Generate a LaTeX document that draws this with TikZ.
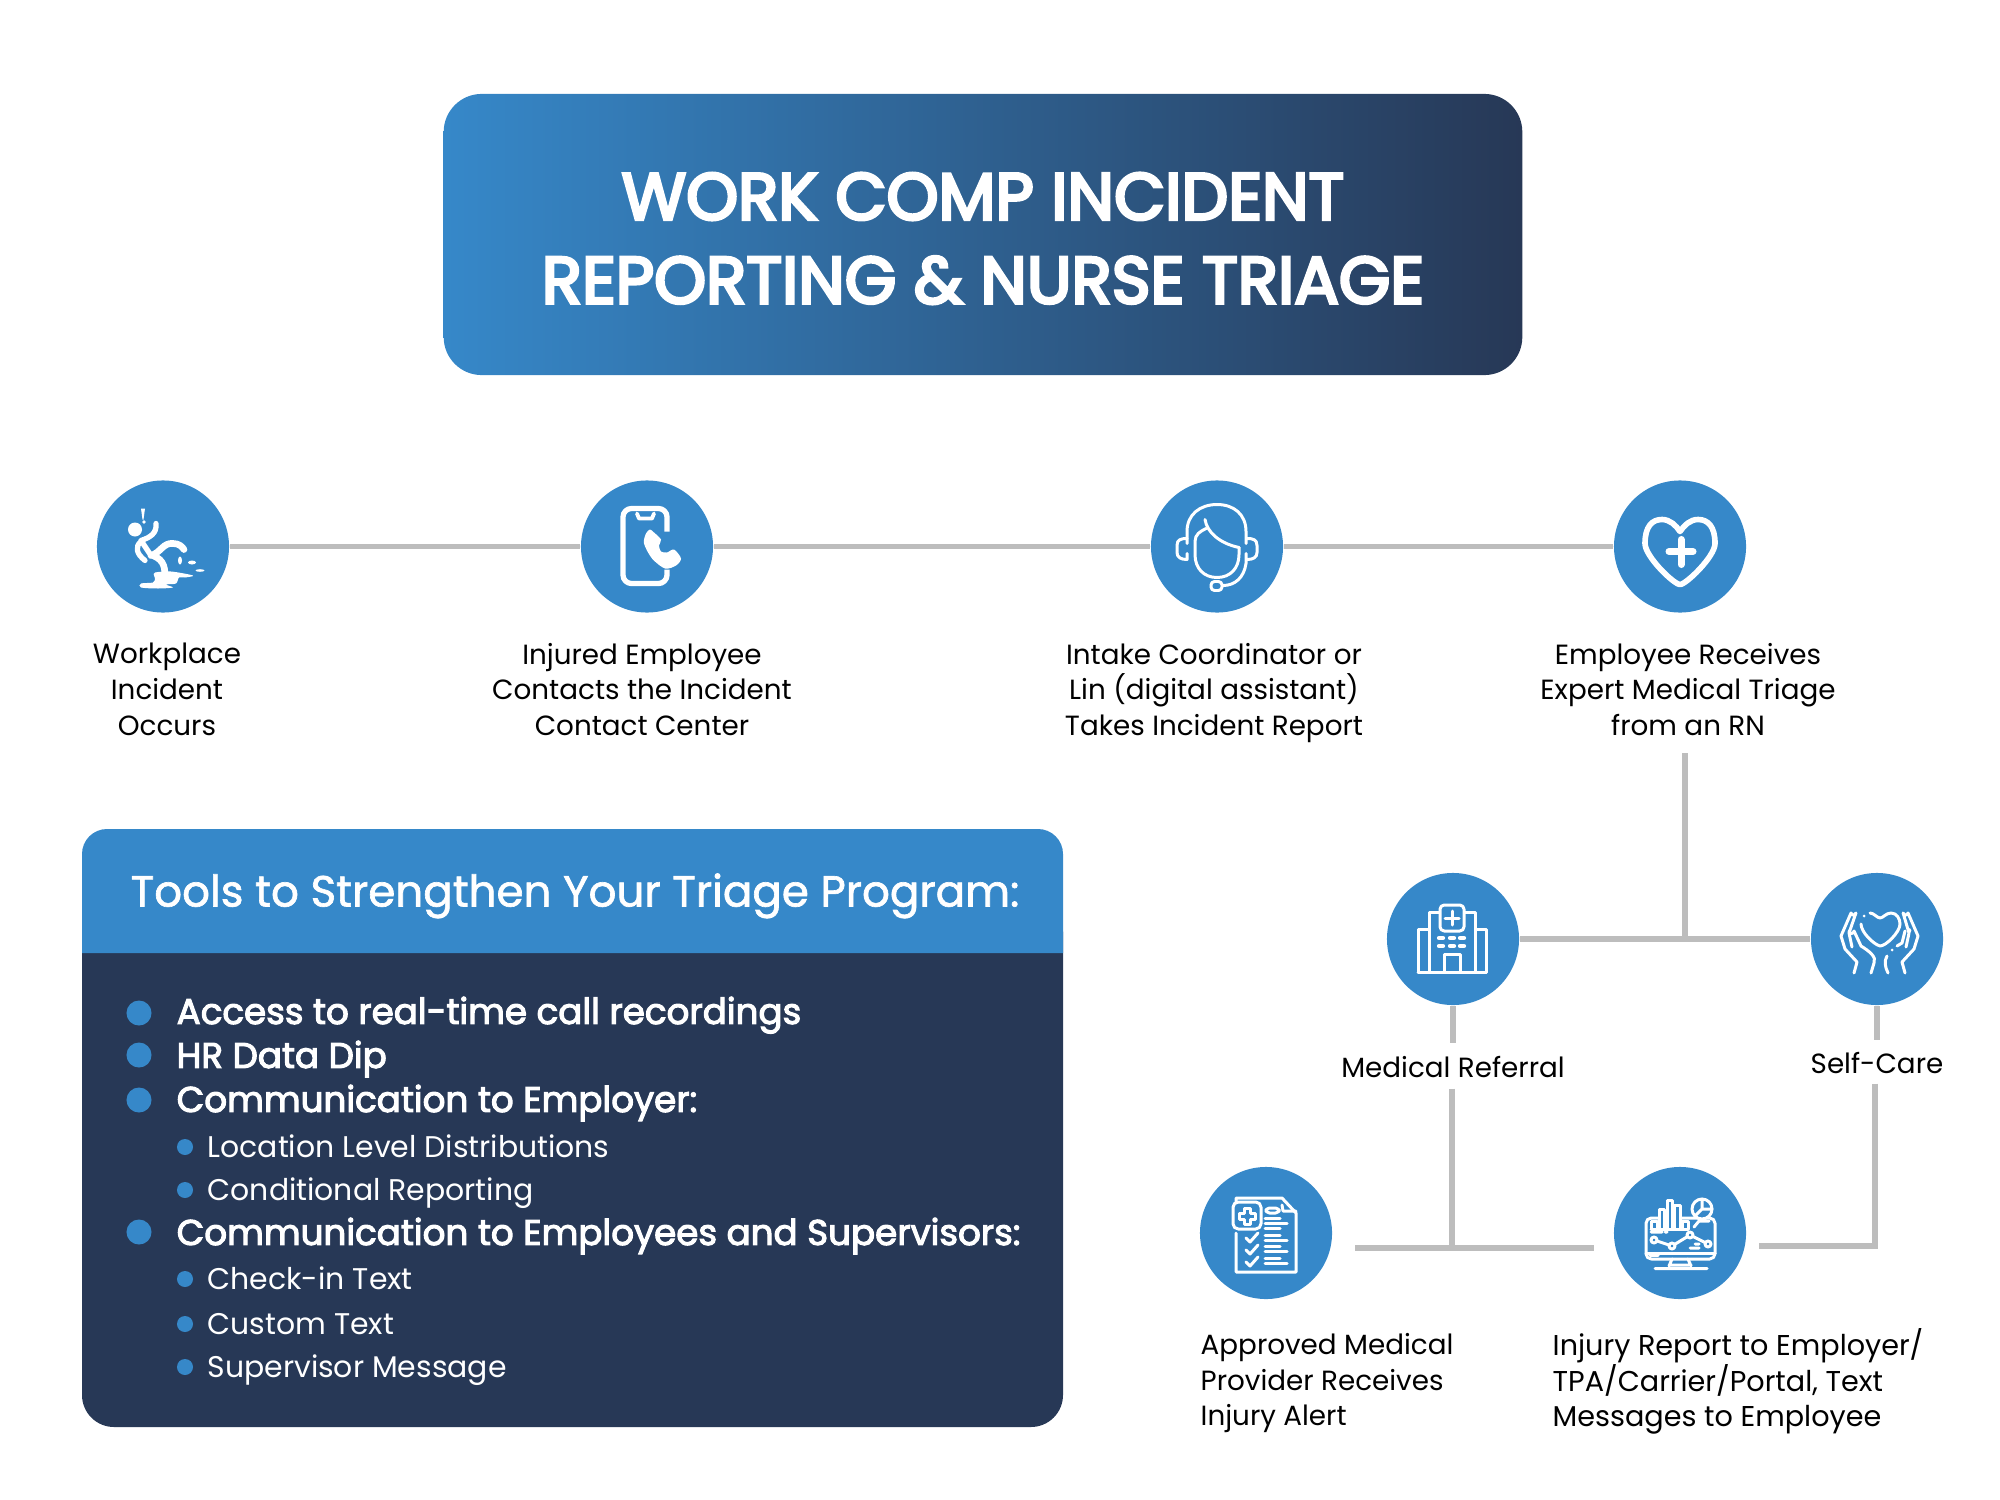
\documentclass[tikz,border=0pt]{standalone}
\usepackage{fontspec}
\setmainfont{Poppins}
\newfontfamily\titlefont[FakeBold=4.5]{Poppins}
\newfontfamily\toolfont[FakeBold=3]{Poppins}
\newfontfamily\headfont[FakeBold=1.5]{Poppins}
\usetikzlibrary{calc}
\definecolor{stepblue}{HTML}{3688C9}
\definecolor{navy}{HTML}{273856}
\definecolor{linegray}{HTML}{BDBDBD}
\tikzset{
 stepdot/.style={circle,fill=stepblue,minimum size=1.32cm,inner sep=0pt},
 link/.style={linegray,line width=1.45pt},
 iconline/.style={white,line width=.85pt,line cap=round,line join=round},
 iconbold/.style={white,line width=1.6pt,line cap=round,line join=round},
 steplabel/.style={align=center,inner sep=0pt,text=black,font=\fontsize{7.9}{10.15}\selectfont,execute at begin node=\strut,execute at end node=\strut},
 sidelabel/.style={steplabel,align=left,anchor=west},
 bigdot/.style={circle,fill=stepblue,minimum size=.25cm,inner sep=0pt},
 smalldot/.style={circle,fill=stepblue,minimum size=.16cm,inner sep=0pt},
 toolmain/.style={anchor=west,inner sep=0pt,text=white,font=\fontsize{10.15}{12}\selectfont\toolfont,execute at begin node=\strut},
 toolsub/.style={anchor=west,inner sep=0pt,text=white,font=\fontsize{8.5}{12}\selectfont,execute at begin node=\strut},
}
\begin{document}
\begin{tikzpicture}[x=.01cm,y=-.01cm]
 \useasboundingbox (0,0) rectangle (2000,1500);
 \node[rounded corners=.38cm,left color=stepblue,right color=navy,minimum width=10.78cm,minimum height=2.81cm] (title) at (983,234.5) {};
 \node[align=center,inner sep=0pt,text=white,font=\fontsize{18.8}{23.8}\selectfont\titlefont] (titletext) at (983,238.5)
  {WORK COMP INCIDENT\\REPORTING \& NURSE TRIAGE};
 % steps
 \node[stepdot] (incident) at (163,546.5) {};
 \node[stepdot] (contact) at (647,546.5) {};
 \node[stepdot] (intake) at (1217,546.5) {};
 \node[stepdot] (triage) at (1680,546.5) {};
 \node[stepdot] (referral) at (1453,939) {};
 \node[stepdot] (selfcare) at (1877,939) {};
 \node[stepdot] (approved) at (1266,1233) {};
 \node[stepdot] (report) at (1680,1233) {};
 \node[steplabel] (incidentlabel) at (167,694.5) {Workplace\\Incident\\Occurs};
 \node[steplabel] (contactlabel) at (642,694.5) {Injured Employee\\Contacts the Incident\\Contact Center};
 \node[steplabel] (intakelabel) at (1214,694.5) {Intake Coordinator or\\Lin (digital assistant)\\Takes Incident Report};
 \node[steplabel] (triagelabel) at (1688,694.5) {Employee Receives\\Expert Medical Triage\\from an RN};
 \node[steplabel,minimum height=.44cm] (referrallabel) at (1453,1066) {\raisebox{-1.1pt}{Medical Referral}};
 \node[steplabel,minimum height=.42cm] (selfcarelabel) at (1877,1062) {\raisebox{-1.1pt}{Self-Care}};
 \node[sidelabel] (approvedlabel) at (1200,1385) {Approved Medical\\Provider Receives\\Injury Alert};
 \node[sidelabel,font=\fontsize{8.15}{10.15}\selectfont] (reportlabel) at (1552,1383) {Injury Report to Employer/\\TPA/Carrier/Portal, Text\\Messages to Employee};
 \coordinate (triageend) at (1685,753);
 \coordinate (triagejoin) at (1685,938);
 \coordinate (referraljoin) at (1452,1248);
 \coordinate (approvedend) at (1355,1248);
 \coordinate (reportend) at (1594,1248);
 \coordinate (selfcarejoin) at (1875,1246);
 \coordinate (selfcareend) at (1759,1246);
 \draw[link] (incident) -- (contact);
 \draw[link] (contact) -- (intake);
 \draw[link] (intake) -- (triage);
 \draw[link] (triageend) -- (triagejoin);
 \draw[link] (referral.east) -- (selfcare.west);
 \draw[link] (referral) -- (referrallabel);
 \draw[link] (referrallabel.south -| referraljoin) -- (referraljoin);
 \draw[link] (approvedend) -- (reportend);
 \draw[link] (selfcare) -- (selfcarelabel);
 \draw[link] (selfcarelabel.south -| selfcarejoin) -- (selfcarejoin) -- (selfcareend);
 % icons
 \begin{scope}[shift={(incident)}]
  \fill[white] (-22,-38) -- (-18,-38) -- (-19.5,-27) -- (-20.5,-27) -- cycle;
  \fill[white] (-19,-24.5) circle (1.8);
  \fill[white] (-28,-17) circle (7);
  \draw[iconbold,line width=1.5pt] (-7,-23) .. controls (-6,-13) and (-13,-9) .. (-22,-6) -- (-12,9);
  \draw[iconbold,line width=1.5pt] (-22,-5) .. controls (-28,0) and (-27,7) .. (-18,14);
  \draw[iconbold,line width=1.9pt] (-12,9) .. controls (-2,6) and (0,-4) .. (10,-3) .. controls (16,-3) and (19,0) .. (21,3);
  \draw[iconbold,line width=1.9pt] (-10,9) .. controls (2,14) and (2,22) .. (2,33);
  \fill[white] plot[smooth cycle] coordinates {(-8,26) (8,25) (30,29) (22,31) (16,31) (13,37) (3,38) (10,41) (-5,42) (-22,41) (-22,37) (-10,36) (-8,32) (-9,29)};
  \fill[white] (17,14) ellipse (2 and 4);
  \fill[white] (29,16) ellipse (4 and 2);
  \fill[white] (37,24) ellipse (4.5 and 1.3);
 \end{scope}
 \begin{scope}[shift={(contact)}]
  \draw[iconbold,line width=1.5pt,line cap=butt,rounded corners=2.4pt] (20,-15) -- (20,-38) -- (-24,-38) -- (-24,37) -- (20,37) -- (20,23);
  \draw[iconline,line width=1.1pt] (-10,-33) -- (-8,-28) -- (5,-28) -- (7,-33);
  \fill[white] plot[smooth cycle] coordinates {(3,-17) (7,-14) (14,-7) (12,-1) (14,5) (20,6) (27,3) (34,12) (29,19) (18,22) (5,12) (-3,-3) (-1,-13)};
 \end{scope}
 \begin{scope}[shift={(intake)}]
  \draw[iconline] (-30,-3) -- (-30,-15) .. controls (-30,-32) and (-17,-42) .. (0,-42) .. controls (17,-42) and (29,-32) .. (29,-15) -- (29,-3);
  \draw[iconline] (-11,-18) .. controls (-17,-15) and (-22,-12) .. (-22,-5) -- (-22,8) .. controls (-22,22) and (-13,31) .. (0,31) .. controls (13,31) and (22,22) .. (22,8) -- (22,1);
  \draw[iconline] (-12,-27) .. controls (-10,-14) and (3,-3) .. (22,1);
  \draw[iconline] (-30,-8) .. controls (-36,-8) and (-40,-7) .. (-40,-1) -- (-40,6) .. controls (-40,11) and (-36,13) .. (-30,13) -- (-30,7);
  \draw[iconline] (30,-8) .. controls (36,-8) and (40,-7) .. (40,-1) -- (40,6) .. controls (40,11) and (36,13) .. (30,13);
  \draw[iconline] (29,7) -- (29,17) .. controls (27,31) and (18,39) .. (6,39);
  \draw[iconline,rounded corners=1pt] (-6,35) rectangle (5,44);
 \end{scope}
 \begin{scope}[shift={(triage)}]
  \draw[iconbold] (0,38) .. controls (-6,38) and (-35,10) .. (-35,-3) .. controls (-35,-20) and (-28,-27) .. (-18,-27) .. controls (-10,-27) and (-4,-21) .. (0,-15) .. controls (4,-21) and (10,-27) .. (18,-27) .. controls (28,-27) and (35,-20) .. (35,-3) .. controls (35,10) and (6,38) .. (0,38) -- cycle;
  \draw[iconbold,line width=2pt] (-11,5) -- (13,5) (1,-7) -- (1,18);
 \end{scope}
 \begin{scope}[shift={(referral)}]
  \draw[iconline,line cap=butt] (-35,33) rectangle (33,-10);
  \draw[iconline,fill=stepblue] (-24,33) -- (-24,-27) -- (22,-27) -- (22,33);
  \draw[iconline,fill=stepblue,rounded corners=1.2pt] (-13,-34) rectangle (11,-8);
  \draw[iconline] (-8,-21) -- (6,-21) (-1,-28) -- (-1,-14);
  \foreach \wy in {-1,7}{\foreach \wx in {-12,-1,9}{\draw[iconline,line width=1.2pt] (\wx-2,\wy) -- (\wx+2,\wy);}}
  \draw[iconline] (-9,33) -- (-9,15) -- (7,15) -- (7,33);
  \draw[iconline] (-35,33) -- (33,33);
 \end{scope}
 \begin{scope}[shift={(selfcare)}]
  \draw[iconline] (-7,-26) .. controls (-3,-26) and (0,-21) .. (3,-21) .. controls (6,-21) and (9,-26) .. (14,-26) .. controls (20,-26) and (23,-20) .. (23,-15) .. controls (23,-7) and (9,7) .. (3,7) .. controls (-4,5) and (-16,-7) .. (-16,-15);
  \fill[white] (-13,-23) circle (1.5) (15,11) circle (1.5);
  \draw[iconline] (-23,34) -- (-20,23) -- (-32,10) -- (-36,-3) -- (-26,-26) arc (170:10:2.5) -- (-28,-6) -- (-25,8) (-28,-8) arc (180:0:2.5) -- (-16,7) .. controls (-8,12) and (0,18) .. (-3,24) -- (-6,34);
  \draw[iconline] (28,34) -- (25,23) -- (37,10) -- (41,-3) -- (31,-26) arc (10:170:2.5) -- (32,-6) -- (29,8) (33,-8) arc (0:-60:2) (28,-8) -- (25,4) -- (20,7);
  \draw[iconline] (10,17) .. controls (7,22) and (8,28) .. (11,34);
 \end{scope}
 \begin{scope}[shift={(approved)}]
  \draw[iconline] (-30,-31) -- (-30,-35) -- (16,-35) -- (30,-20) -- (30,39) -- (-30,39) -- (-30,0);
  \draw[iconline] (16,-28) -- (17,-22) -- (30,-22);
  \draw[iconline,rounded corners=1.5pt] (-33,-31) rectangle (-5,-4);
  \draw[iconline] (-22,-25) -- (-16,-25) -- (-16,-20) -- (-11,-20) -- (-11,-14) -- (-16,-14) -- (-16,-9) -- (-22,-9) -- (-22,-14) -- (-27,-14) -- (-27,-20) -- (-22,-20) -- cycle;
  \draw[iconline,rounded corners=1pt] (0,-25) rectangle (13,-20);
  \foreach \ly/\lx in {-15/14,-10/21,-5/14,2/14,7/21,13/14,18/21,25/14,30/21}{\draw[iconline] (-1,\ly) -- (\lx,\ly);}
  \foreach \cy in {5,17,29}{\draw[iconline] (-20,\cy) -- (-16,\cy+4) -- (-8,\cy-5);}
 \end{scope}
 \begin{scope}[shift={(report)}]
  \draw[iconline,rounded corners=1.5pt] (-34,-15) rectangle (35,26);
  \draw[iconline] (-34,20) -- (35,20) (-30,22.5) -- (-22,22.5);
  \draw[iconline] (-8,26) -- (-11,33) (8,26) -- (11,33) (-11,32) -- (11,32) (-25,35.5) -- (27,35.5);
  \draw[iconline,fill=stepblue] (-29,-4) -- (-29,-12) -- (-23,-12) -- (-23,-4) (-21,-4) -- (-21,-24) -- (-16,-24) -- (-16,-4) (-13,-4) -- (-13,-33) -- (-8,-33) -- (-8,-4) (-6,-4) -- (-6,-28) -- (0,-28) -- (0,-4) (2,-4) -- (2,-12) -- (8,-12) -- (8,-4);
  \draw[iconline] (-29,-4) -- (8,-4);
  \draw[iconline,fill=stepblue] (22,-24) circle (10);
  \draw[iconline] (22,-24) -- (22,-34) (22,-24) -- (32,-24) (22,-24) -- (15,-17);
  \draw[iconline] (14,-6) -- (19,-12) -- (29,-12) (-29,-1) -- (-18,-1) (-15,-1) -- (-13,-1) (15,11) -- (19,11) (10,15) -- (19,15);
  \draw[iconline] (-26,7) -- (-8,13) -- (10,2) -- (28,11);
  \foreach \gx/\gy in {-26/7,-8/13,10/2,28/11}{\draw[iconline,fill=stepblue] (\gx,\gy) circle (3);}
 \end{scope}
 % tools panel
 \fill[navy,rounded corners=.32cm] (82,900) rectangle (1063,1427);
 \fill[stepblue] (82,953) [rounded corners=.25cm]-- (82,829) -- (1063,829) [sharp corners]-- (1063,953) -- cycle;
 \node[inner sep=0pt,text=white,font=\fontsize{12.4}{15}\selectfont\headfont,execute at begin node=\strut] (toolshead) at (575,896) {Tools to Strengthen Your Triage Program:};
 \foreach \n/\y/\ty/\txt in {recordings/1013/1015.5/Access to real-time call recordings,datadip/1055/1059.5/HR Data Dip,employer/1100/1103.5/Communication to Employer:,employees/1232/1236.5/Communication to Employees and Supervisors:}{
  \node[bigdot] (dot\n) at (139,\y) {};
  \node[toolmain] (tool\n) at (176,\ty) {\txt};
 }
 \foreach \n/\y/\ty/\txt in {location/1147/1149.5/Location Level Distributions,conditional/1190/1192.5/Conditional Reporting,checkin/1279/1281.5/Check-in Text,custom/1324/1326.5/Custom Text,supervisor/1367/1369.5/Supervisor Message}{
  \node[smalldot] (dot\n) at (185,\y) {};
  \node[toolsub] (tool\n) at (207,\ty) {\txt};
 }
\end{tikzpicture}
\end{document}
